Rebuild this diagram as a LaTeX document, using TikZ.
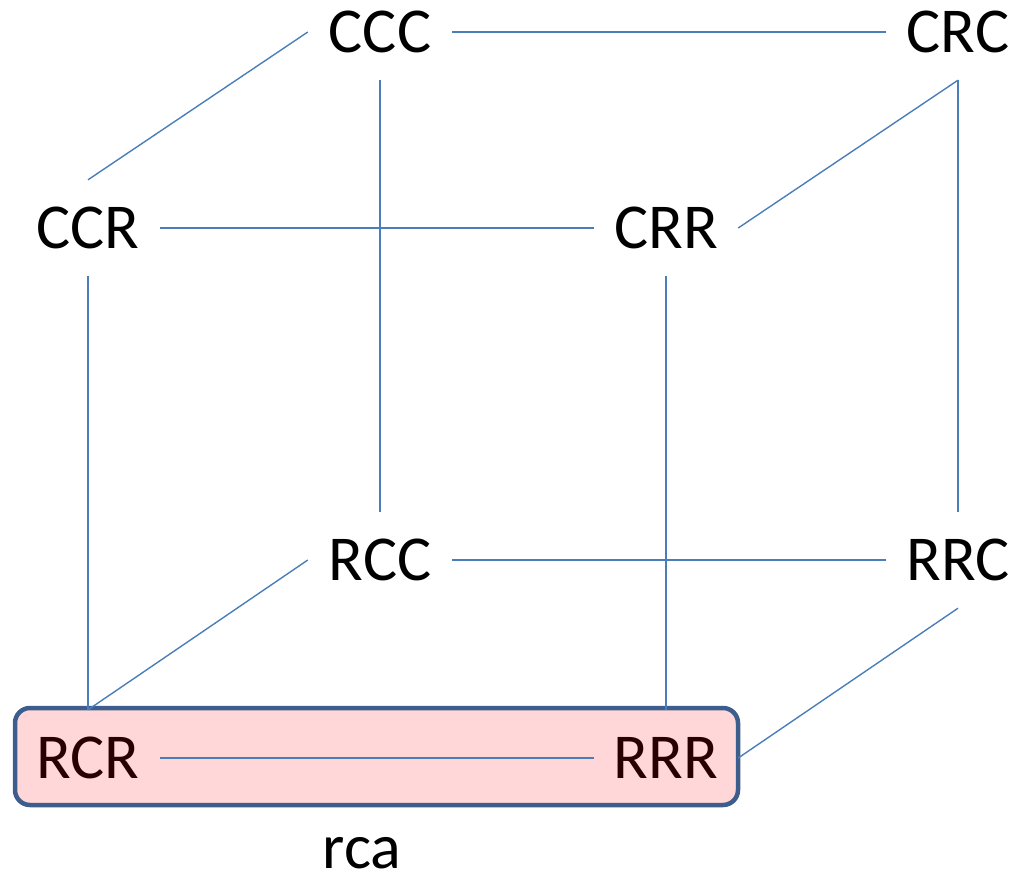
\documentclass[tikz,border=0pt]{standalone}
\usepackage{fontspec}
\setmainfont{Carlito}
\definecolor{edgeblue}{RGB}{74,126,187}
\definecolor{boxborder}{RGB}{61,94,140}
\definecolor{boxfill}{RGB}{255,215,217}
\definecolor{darkred}{RGB}{40,0,0}
\begin{document}
\begin{tikzpicture}[x=1pt,y=-1pt,
  state/.style={minimum width=144pt,minimum height=96pt,inner sep=0pt,
    font=\fontsize{64}{72}\selectfont},
  caption/.style={inner sep=0pt,font=\fontsize{64}{72}\selectfont},
  edge/.style={draw=edgeblue,line width=1.4pt},
  hl/.style={text=darkred}]
\useasboundingbox (0,0) rectangle (1026,880);
\draw[draw=boxborder,fill=boxfill,line width=4.5pt,rounded corners=15pt] (15,708) rectangle (738,805);
\node[state] (CCC) at (380,32) {CCC};
\node[state] (CRC) at (958,32) {CRC};
\node[state] (CCR) at (88,228) {CCR};
\node[state] (CRR) at (666,228) {CRR};
\node[state] (RCC) at (380,560) {RCC};
\node[state] (RRC) at (958,560) {RRC};
\node[state,hl] (RCR) at (88,758) {RCR};
\node[state,hl] (RRR) at (666,758) {RRR};
\node[caption,anchor=base] (rca) at (362,868) {rca};
\draw[edge] (CCC.east) -- (CRC.west);
\draw[edge] (CCR.east) -- (CRR.west);
\draw[edge] (RCC.east) -- (RRC.west);
\draw[edge] (RCR.east) -- (RRR.west);
\draw[edge] (CCC.south) -- (RCC.north);
\draw[edge] (CRC.south) -- (RRC.north);
\draw[edge] (CCR.south) -- (RCR.north);
\draw[edge] (CRR.south) -- (RRR.north);
\draw[edge] (CCR.north) -- (CCC.west);
\draw[edge] (CRR.east) -- (CRC.south);
\draw[edge] (RCR.north) -- (RCC.west);
\draw[edge] (RRR.east) -- (RRC.south);
\end{tikzpicture}
\end{document}
